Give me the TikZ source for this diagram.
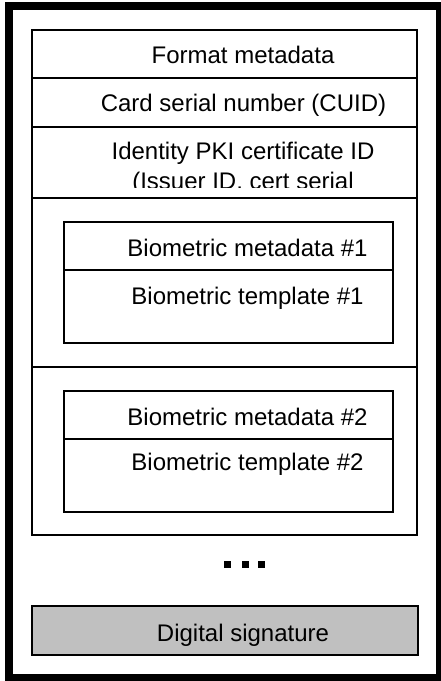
\documentclass[tikz,border=0pt]{standalone}
\usepackage{fontspec}
\setmainfont{Liberation Sans}
\usetikzlibrary{positioning}
\definecolor{siggray}{HTML}{C0C0C0}

\begin{document}
\begin{tikzpicture}[
    x=0.75pt, y=-0.75pt,
    node distance=0pt,
    row/.style={rectangle, draw=black, line width=1.5pt, outer sep=0pt, inner sep=0pt,
                minimum width=288.75pt},
    subrow/.style={rectangle, draw=black, line width=1.9pt, outer sep=0pt, inner sep=0pt,
                minimum width=246.75pt},
    lbl/.style={anchor=base, inner sep=0pt, align=center,
                font=\fontsize{18}{21.75}\selectfont}
]
    \useasboundingbox (0,0) rectangle (440,681);

    % record layout
    \node[row, minimum height=36pt, anchor=north west] (fmt) at (32,30) {};
    \node[row, minimum height=36.75pt, below=of fmt] (cuid) {};
    \node[row, minimum height=53.25pt, below=of cuid] (pki) {};
    \node[row, minimum height=126.75pt, below=of pki] (slot1) {};
    \node[row, minimum height=126pt, below=of slot1] (slot2) {};

    \node[subrow, minimum height=36pt, anchor=north west] (meta1) at ([shift={(24pt,-18pt)}]slot1.north west) {};
    \node[subrow, minimum height=54.75pt, below=of meta1] (tmpl1) {};
    \node[subrow, minimum height=36pt, anchor=north west] (meta2) at ([shift={(24pt,-18pt)}]slot2.north west) {};
    \node[subrow, minimum height=54.75pt, below=of meta2] (tmpl2) {};

    \node[row, line width=1.9pt, fill=siggray, minimum width=289.5pt, minimum height=36.75pt,
          below=53.25pt of slot2.south west, anchor=north west] (sig) {};

    \foreach \dx in {227.5,245,261.5}
        \fill (\dx-3.5,561) rectangle (\dx+3.5,568);

    % texts
    \node[lbl] (tfmt) at (243,64) {Format metadata};
    \node[lbl] (tcuid) at (243.5,112) {Card serial number (CUID)};
    \begin{scope}
        \clip (32,127) rectangle (417,187);
        \node[lbl] (tpki) at (243,189) {Identity PKI certificate ID\\(Issuer ID, cert serial};
    \end{scope}
    \node[lbl] (tmeta1) at (247.5,256.5) {Biometric metadata \#1};
    \node[lbl] (ttmpl1) at (247.5,304) {Biometric template \#1};
    \node[lbl] (tmeta2) at (247.5,425) {Biometric metadata \#2};
    \node[lbl] (ttmpl2) at (247.5,470.5) {Biometric template \#2};
    \node[lbl] (tsig) at (243,641) {Digital signature};

    % card frame
    \draw[line width=6pt] (9,6.5) rectangle (440,678);
\end{tikzpicture}
\end{document}
